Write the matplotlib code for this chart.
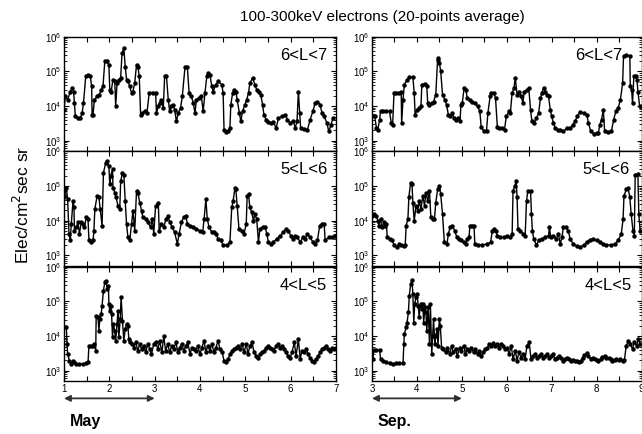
import matplotlib
matplotlib.use("Agg")
import matplotlib.pyplot as plt
from matplotlib.ticker import MultipleLocator, LogLocator, NullFormatter
import numpy as np

plt.rcParams['font.family'] = ['Liberation Sans', 'DejaVu Sans']

#%% Dados: (dia, log10 fluxo)

may_67 = [(1.00,3.89),(1.03,4.28),(1.08,4.18),(1.14,4.42),(1.18,4.52),(1.21,4.42),(1.23,4.09),(1.25,3.70),
          (1.31,3.65),(1.36,3.65),(1.40,3.80),(1.43,4.09),(1.48,4.86),(1.53,4.90),(1.58,4.86),(1.61,4.57),
          (1.62,3.75),(1.64,3.75),(1.67,4.18),(1.73,4.28),(1.78,4.33),(1.82,4.47),(1.86,4.57),(1.90,5.29),
          (1.95,5.29),(1.99,5.19),(2.01,4.47),(2.04,4.42),(2.08,4.76),(2.12,4.71),(2.14,3.99),(2.17,4.66),
          (2.21,4.76),(2.25,4.81),(2.28,5.53),(2.32,5.67),(2.35,5.14),(2.38,4.76),(2.41,4.71),(2.45,4.57),
          (2.49,4.38),(2.52,4.42),(2.56,4.66),(2.60,5.19),(2.63,5.14),(2.66,4.86),(2.69,3.75),(2.73,3.80),
          (2.78,3.85),(2.83,3.80),(2.88,4.39),(2.97,4.39),(3.02,4.39),(3.04,3.80),(3.08,3.99),(3.11,4.09),
          (3.15,4.18),(3.19,3.94),(3.22,4.86),(3.26,4.86),(3.30,4.18),(3.33,3.85),(3.37,3.99),(3.41,4.04),
          (3.44,3.89),(3.48,3.56),(3.52,3.80),(3.57,3.94),(3.61,4.28),(3.67,5.14),(3.72,5.14),(3.76,4.38),
          (3.81,4.28),(3.85,4.09),(3.89,3.80),(3.92,4.18),(3.98,4.23),(4.03,4.28),(4.07,3.85),(4.11,4.38),
          (4.15,4.86),(4.18,4.95),(4.22,4.90),(4.26,4.57),(4.29,4.42),(4.35,4.62),(4.40,4.71),(4.48,4.62),
          (4.51,4.38),(4.53,3.32),(4.57,3.24),(4.62,3.27),(4.66,3.37),(4.68,4.04),(4.72,4.38),(4.76,4.47),
          (4.79,4.42),(4.82,4.18),(4.87,3.80),(4.90,3.56),(4.94,3.85),(4.99,4.04),(5.03,4.18),(5.07,4.38),
          (5.10,4.66),(5.16,4.81),(5.21,4.62),(5.25,4.47),(5.30,4.42),(5.34,4.33),(5.38,4.04),(5.41,3.75),
          (5.46,3.61),(5.51,3.53),(5.56,3.51),(5.62,3.53),(5.68,3.37),(5.73,3.65),(5.80,3.70),(5.88,3.75),
          (5.93,3.61),(5.99,3.51),(6.06,3.56),(6.10,3.37),(6.14,3.56),(6.17,4.42),(6.20,3.80),(6.22,3.37),
          (6.30,3.34),(6.37,3.32),(6.43,3.61),(6.49,3.85),(6.54,4.09),(6.59,4.13),(6.65,4.04),(6.69,3.80),
          (6.74,3.70),(6.80,3.51),(6.84,3.27),(6.89,3.46),(6.93,3.65)]

sep_67 = [(3.00,3.70),(3.06,3.70),(3.10,3.37),(3.13,3.32),(3.17,3.61),(3.19,3.85),(3.24,3.87),(3.32,3.85),
          (3.39,3.85),(3.43,3.51),(3.46,3.46),(3.49,4.39),(3.54,4.39),(3.61,4.39),(3.65,4.42),(3.66,3.51),
          (3.69,4.18),(3.72,4.62),(3.78,4.76),(3.83,4.83),(3.91,4.83),(3.94,4.38),(3.96,3.75),(4.00,3.89),
          (4.05,3.94),(4.09,3.99),(4.11,4.62),(4.17,4.64),(4.22,4.57),(4.24,4.09),(4.28,4.04),(4.33,4.09),
          (4.37,4.13),(4.42,4.33),(4.46,5.34),(4.47,5.38),(4.50,5.24),(4.53,5.00),(4.57,4.33),(4.62,4.18),
          (4.66,4.04),(4.70,3.75),(4.74,3.70),(4.79,3.80),(4.83,3.65),(4.87,3.61),(4.92,3.65),(4.96,3.56),
          (4.98,4.04),(5.01,4.09),(5.05,4.52),(5.09,4.47),(5.12,4.23),(5.18,4.18),(5.23,4.13),(5.29,4.09),
          (5.35,3.99),(5.40,3.85),(5.43,3.41),(5.49,3.27),(5.55,3.29),(5.58,3.80),(5.63,4.28),(5.65,4.39),
          (5.71,4.39),(5.75,4.23),(5.79,3.41),(5.82,3.37),(5.90,3.37),(5.95,3.32),(5.99,3.70),(6.05,3.85),
          (6.08,3.80),(6.12,4.38),(6.16,4.52),(6.19,4.81),(6.23,4.33),(6.27,4.42),(6.32,4.28),(6.36,4.09),
          (6.39,4.42),(6.45,4.47),(6.49,4.52),(6.53,3.89),(6.56,3.56),(6.61,3.51),(6.66,3.65),(6.71,3.80),
          (6.75,4.23),(6.78,4.38),(6.82,4.52),(6.86,4.42),(6.89,4.33),(6.93,4.28),(6.97,3.89),(7.00,3.70),
          (7.04,3.51),(7.08,3.37),(7.13,3.30),(7.19,3.32),(7.26,3.27),(7.34,3.37),(7.41,3.37),(7.47,3.46),
          (7.52,3.56),(7.57,3.70),(7.63,3.83),(7.71,3.80),(7.78,3.75),(7.82,3.51),(7.87,3.27),(7.94,3.20),
          (8.00,3.22),(8.04,3.22),(8.07,3.46),(8.11,3.61),(8.15,3.89),(8.18,3.27),(8.26,3.24),(8.33,3.27),
          (8.38,3.61),(8.43,3.85),(8.48,3.94),(8.53,4.18),(8.58,4.66),(8.60,5.45),(8.66,5.47),(8.74,5.45),
          (8.75,4.57),(8.78,4.47),(8.80,4.09),(8.83,4.86),(8.87,4.86),(8.90,4.76),(8.92,4.42),(8.96,3.99)]

may_56 = [(1.00,4.67),(1.01,4.71),(1.05,4.95),(1.08,4.62),(1.11,3.62),(1.14,3.43),(1.16,3.90),(1.20,4.57),
          (1.22,4.38),(1.23,3.71),(1.27,3.81),(1.31,3.95),(1.34,3.62),(1.38,3.95),(1.42,3.90),(1.45,3.81),
          (1.49,4.10),(1.53,4.05),(1.55,3.43),(1.60,3.38),(1.64,3.43),(1.66,3.71),(1.68,4.33),(1.73,4.71),
          (1.77,4.67),(1.80,4.33),(1.84,3.86),(1.87,5.38),(1.92,5.67),(1.95,5.71),(1.99,5.57),(2.01,5.05),
          (2.03,5.29),(2.07,5.48),(2.08,4.95),(2.12,4.81),(2.15,4.67),(2.19,4.43),(2.23,4.33),(2.25,5.14),
          (2.29,5.38),(2.32,5.33),(2.35,4.57),(2.38,3.90),(2.41,3.52),(2.45,3.43),(2.49,3.90),(2.52,4.29),
          (2.56,3.71),(2.60,4.86),(2.63,4.81),(2.67,4.52),(2.71,4.29),(2.74,4.10),(2.80,4.05),(2.85,3.95),
          (2.91,3.81),(2.95,4.05),(2.98,3.62),(3.02,4.43),(3.08,4.52),(3.10,3.71),(3.15,3.90),(3.20,3.81),
          (3.25,4.05),(3.30,4.14),(3.33,3.95),(3.39,3.81),(3.44,3.67),(3.50,3.33),(3.54,3.62),(3.59,3.95),
          (3.64,4.10),(3.69,4.14),(3.72,3.90),(3.77,3.86),(3.85,3.81),(3.92,3.76),(4.00,3.71),(4.06,3.67),
          (4.09,4.05),(4.13,4.62),(4.16,4.05),(4.20,3.81),(4.26,3.67),(4.31,3.67),(4.35,3.62),(4.40,3.48),
          (4.46,3.43),(4.51,3.30),(4.59,3.29),(4.66,3.38),(4.70,4.38),(4.73,4.57),(4.77,4.93),(4.79,4.90),
          (4.82,4.43),(4.86,3.76),(4.92,3.71),(4.97,3.62),(5.02,3.90),(5.04,4.71),(5.07,4.76),(5.10,4.38),
          (5.14,4.24),(5.18,4.00),(5.21,4.19),(5.25,4.05),(5.29,3.38),(5.32,3.76),(5.38,3.81),(5.44,3.81),
          (5.47,3.62),(5.51,3.38),(5.56,3.33),(5.62,3.38),(5.69,3.48),(5.77,3.57),(5.84,3.67),(5.90,3.76),
          (5.95,3.71),(6.00,3.57),(6.05,3.48),(6.10,3.57),(6.15,3.52),(6.21,3.38),(6.27,3.52),(6.32,3.48),
          (6.37,3.62),(6.43,3.52),(6.49,3.38),(6.54,3.33),(6.59,3.43),(6.64,3.86),(6.69,3.90),(6.74,3.90),
          (6.76,3.43),(6.84,3.52),(6.91,3.52),(6.98,3.57)]

sep_56 = [(3.00,4.14),(3.04,4.19),(3.10,4.14),(3.13,4.00),(3.15,3.86),(3.19,4.05),(3.22,3.81),(3.27,3.95),
          (3.29,3.86),(3.32,3.90),(3.34,3.52),(3.39,3.48),(3.44,3.43),(3.50,3.29),(3.56,3.24),(3.61,3.33),
          (3.65,3.29),(3.71,3.26),(3.74,3.29),(3.76,3.86),(3.80,4.05),(3.82,4.67),(3.86,5.10),(3.89,5.05),
          (3.91,4.52),(3.94,4.00),(3.98,4.43),(4.02,4.29),(4.05,4.57),(4.09,4.33),(4.13,4.71),(4.17,4.43),
          (4.20,4.81),(4.24,4.57),(4.28,4.86),(4.31,4.10),(4.35,4.05),(4.39,4.05),(4.42,4.52),(4.46,4.90),
          (4.50,5.00),(4.53,4.76),(4.57,4.19),(4.61,3.38),(4.67,3.33),(4.70,3.62),(4.74,3.81),(4.79,3.86),
          (4.84,3.71),(4.89,3.52),(4.94,3.48),(4.99,3.43),(5.05,3.38),(5.09,3.33),(5.12,3.48),(5.16,3.52),
          (5.18,3.86),(5.23,3.86),(5.27,3.86),(5.29,3.33),(5.35,3.31),(5.46,3.30),(5.57,3.33),(5.64,3.38),
          (5.68,3.71),(5.71,3.76),(5.75,3.71),(5.79,3.57),(5.86,3.52),(5.94,3.52),(6.01,3.57),(6.08,3.52),
          (6.12,3.62),(6.14,4.86),(6.18,5.00),(6.21,5.14),(6.23,4.67),(6.25,3.76),(6.30,3.71),(6.36,3.62),
          (6.41,3.57),(6.44,4.57),(6.47,4.86),(6.53,4.86),(6.55,4.19),(6.57,3.71),(6.60,3.48),(6.66,3.29),
          (6.71,3.43),(6.78,3.48),(6.86,3.52),(6.93,3.57),(6.95,3.81),(6.98,3.52),(7.04,3.57),(7.10,3.48),
          (7.15,3.62),(7.19,3.33),(7.23,3.52),(7.26,3.81),(7.32,3.81),(7.37,3.71),(7.41,3.48),(7.48,3.33),
          (7.56,3.26),(7.63,3.24),(7.71,3.29),(7.78,3.38),(7.85,3.45),(7.93,3.48),(8.00,3.43),(8.07,3.38),
          (8.15,3.33),(8.22,3.30),(8.33,3.30),(8.41,3.33),(8.48,3.43),(8.55,3.62),(8.59,4.05),(8.61,4.71),
          (8.66,4.90),(8.70,4.95),(8.74,4.67),(8.77,4.19),(8.81,3.71),(8.84,3.57),(8.86,5.33),(8.92,5.35),
          (8.94,4.19),(8.97,3.71)]

may_45 = [(1.00,4.25),(1.05,4.25),(1.07,3.77),(1.08,3.48),(1.12,3.29),(1.16,3.19),(1.20,3.29),(1.23,3.24),
          (1.27,3.19),(1.34,3.19),(1.42,3.19),(1.49,3.21),(1.53,3.24),(1.55,3.72),(1.60,3.72),(1.64,3.72),
          (1.67,3.77),(1.70,3.58),(1.71,4.59),(1.75,4.54),(1.77,4.15),(1.79,4.49),(1.82,4.63),(1.84,4.88),
          (1.87,5.31),(1.90,5.55),(1.93,5.60),(1.95,5.36),(1.98,5.45),(1.99,4.92),(2.01,4.73),(2.03,4.88),
          (2.05,4.63),(2.07,3.96),(2.09,4.35),(2.12,4.15),(2.14,3.86),(2.17,4.35),(2.19,4.73),(2.21,3.96),
          (2.24,4.49),(2.26,5.12),(2.29,4.44),(2.32,3.86),(2.35,4.20),(2.38,4.35),(2.41,4.30),(2.43,3.91),
          (2.46,3.82),(2.51,3.77),
          (2.54,3.67),(2.58,3.82),(2.63,3.58),(2.67,3.77),(2.71,3.63),(2.76,3.72),(2.80,3.53),(2.85,3.77),
          (2.89,3.63),(2.93,3.48),(2.98,3.77),(3.02,3.82),(3.07,3.63),(3.11,3.86),(3.16,3.53),(3.20,4.01),
          (3.24,3.58),(3.29,3.77),(3.33,3.53),(3.38,3.72),(3.42,3.63),(3.47,3.82),(3.51,3.53),(3.55,3.67),
          (3.60,3.77),(3.64,3.58),(3.69,3.72),(3.73,3.82),(3.78,3.48),(3.82,3.67),(3.86,3.63),(3.91,3.58),
          (3.95,3.72),(4.00,3.48),(4.04,3.67),(4.09,3.86),(4.13,3.53),(4.17,3.72),(4.22,3.58),(4.26,3.77),
          (4.31,3.53),(4.35,3.67),(4.40,3.86),(4.44,3.63),(4.49,3.53),(4.53,3.29),(4.57,3.24),(4.62,3.34),
          (4.66,3.48),(4.71,3.58),(4.75,3.63),(4.79,3.67),(4.84,3.72),(4.88,3.63),(4.93,3.77),(4.97,3.53),
          (5.02,3.77),(5.06,3.48),(5.10,3.72),(5.15,3.82),(5.19,3.53),(5.24,3.43),(5.28,3.38),(5.33,3.48),
          (5.37,3.53),(5.41,3.58),(5.46,3.67),(5.50,3.72),(5.55,3.67),(5.59,3.63),(5.63,3.58),(5.68,3.72),
          (5.72,3.77),(5.77,3.67),(5.81,3.72),(5.86,3.63),(5.90,3.53),(5.94,3.43),(5.99,3.38),(6.03,3.53),
          (6.08,3.82),(6.12,3.43),(6.17,3.91),(6.21,3.34),(6.25,3.58),(6.30,3.53),(6.34,3.63),(6.39,3.48),
          (6.43,3.38),(6.48,3.29),(6.52,3.24),(6.56,3.34),(6.61,3.43),(6.65,3.53),(6.70,3.63),(6.74,3.67),
          (6.78,3.72),(6.83,3.63),(6.87,3.58),(6.92,3.67),(6.96,3.63),(7.00,3.67)]

sep_45 = [(3.00,3.34),(3.02,3.34),(3.04,3.60),(3.10,3.60),(3.17,3.60),(3.19,3.34),(3.24,3.29),(3.32,3.26),
          (3.39,3.21),(3.46,3.19),(3.54,3.21),(3.61,3.22),(3.69,3.21),(3.71,3.77),(3.72,4.06),(3.76,4.25),
          (3.78,4.39),(3.81,4.68),(3.83,5.16),(3.86,5.50),(3.89,5.62),(3.91,5.21),(3.93,4.39),(3.95,4.92),
          (3.98,5.12),(4.00,5.21),(4.03,4.88),(4.05,4.54),(4.08,4.92),(4.11,4.78),(4.13,4.92),(4.15,4.39),
          (4.18,4.83),(4.20,4.68),(4.22,4.15),(4.25,4.83),(4.28,3.77),(4.30,4.92),(4.33,3.48),(4.35,4.01),
          (4.37,4.49),(4.40,3.77),(4.42,4.01),(4.45,4.20),(4.47,3.72),(4.50,4.49),(4.52,4.30),(4.55,3.67),
          (4.59,3.63),(4.64,3.53),(4.68,3.67),(4.73,3.48),(4.77,3.72),(4.81,3.53),(4.86,3.63),(4.90,3.43),
          (4.95,3.67),(4.99,3.58),(5.04,3.72),(5.08,3.48),(5.12,3.63),(5.17,3.58),(5.21,3.67),(5.26,3.53),
          (5.30,3.63),(5.35,3.48),(5.39,3.58),(5.43,3.43),(5.48,3.53),(5.52,3.63),(5.57,3.67),(5.61,3.77),
          (5.65,3.72),(5.70,3.79),(5.74,3.72),(5.79,3.77),(5.83,3.67),(5.88,3.77),(5.92,3.72),(5.96,3.63),
          (6.01,3.67),(6.05,3.48),(6.10,3.72),(6.14,3.34),(6.19,3.58),(6.23,3.29),(6.27,3.53),(6.32,3.38),
          (6.36,3.48),(6.41,3.34),(6.45,3.72),(6.50,3.82),(6.54,3.34),(6.58,3.43),(6.63,3.48),(6.67,3.38),
          (6.72,3.43),(6.76,3.48),(6.80,3.38),(6.85,3.43),(6.89,3.48),(6.94,3.38),(6.98,3.43),(7.03,3.48),
          (7.07,3.34),(7.11,3.38),(7.16,3.43),(7.20,3.38),(7.25,3.29),(7.29,3.34),(7.34,3.38),(7.38,3.34),
          (7.42,3.29),(7.47,3.31),(7.51,3.27),(7.56,3.29),(7.60,3.24),(7.65,3.29),(7.69,3.38),(7.73,3.46),
          (7.78,3.50),(7.82,3.43),(7.87,3.34),(7.91,3.38),(7.96,3.34),(8.00,3.31),(8.04,3.29),(8.09,3.34),
          (8.13,3.40),(8.18,3.43),(8.22,3.38),(8.27,3.37),(8.31,3.34),(8.35,3.29),(8.40,3.31),(8.44,3.34),
          (8.49,3.31),(8.53,3.34),(8.58,3.29),(8.62,3.31),(8.66,3.72),(8.71,3.86),(8.75,3.77),(8.80,3.63),
          (8.84,3.82),(8.89,3.72),(8.93,3.91),(8.97,3.77)]

paineis = [[may_67, sep_67], [may_56, sep_56], [may_45, sep_45]]
faixas_L = ["6<L<7", "5<L<6", "4<L<5"]
xlims = [(1, 7), (3, 9)]
meses = ["May", "Sep."]

#%% Figura

fig = plt.figure(figsize=(6.42, 4.34), dpi=100)

W, H = 642.0, 434.0
lefts = [64.0, 372.0]
widths = [272.0, 269.5]
tops = [36.7, 151.3, 266.7]
alt = 114.5
# posição horizontal do rótulo de L (fração do eixo)
pos_rotulo = [[0.968, 0.928], [0.968, 0.957], [0.968, 0.965]]

for i in range(3):
    for j in range(2):
        ax = fig.add_axes([lefts[j]/W, 1 - (tops[i] + alt)/H, widths[j]/W, alt/H])
        dados = np.array(paineis[i][j])
        ax.plot(dados[:, 0], 10**dados[:, 1], color='black', lw=1.0,
                marker='o', ms=3.2, mew=0, clip_on=True)
        ax.set_yscale('log')
        ax.set_ylim(5e2, 1e6)
        ax.set_xlim(*xlims[j])
        ax.xaxis.set_major_locator(MultipleLocator(1))
        ax.xaxis.set_minor_locator(MultipleLocator(0.5))
        ax.yaxis.set_major_locator(LogLocator(base=10, numticks=10))
        ax.yaxis.set_minor_locator(LogLocator(base=10, subs=np.arange(2, 10), numticks=10))
        ax.yaxis.set_minor_formatter(NullFormatter())
        ax.tick_params(which='both', direction='in', top=True, right=True, labelsize=7, pad=2)
        ax.tick_params(which='major', length=3.5, width=0.8)
        ax.tick_params(which='minor', length=2, width=0.6)
        ax.tick_params(axis='x', which='minor', length=3.5, width=0.8)
        for s in ax.spines.values():
            s.set_linewidth(1.0)
        ax.text(pos_rotulo[i][j], 0.84, faixas_L[i], transform=ax.transAxes, ha='right',
                va='center', fontsize=12)
        if i < 2:
            ax.set_xticklabels([])
        else:
            x0, x1 = xlims[j]
            ax.annotate('', xy=(x0 + 2, -0.15), xytext=(x0, -0.15),
                        xycoords=ax.get_xaxis_transform(), annotation_clip=False,
                        arrowprops=dict(arrowstyle='<|-|>', color='#303030', lw=1.3,
                                        mutation_scale=9, shrinkA=0, shrinkB=0))
            ax.text(x0 + 0.12, -0.35, meses[j], transform=ax.get_xaxis_transform(),
                    ha='left', va='center', fontsize=11.5, fontweight='bold')

fig.text(382/W, 1 - 17/H, "100-300keV electrons (20-points average)",
         ha='center', va='center', fontsize=11)
fig.text(22/W, 1 - 205/H, "Elec/cm$^2$sec sr", rotation=90,
         ha='center', va='center', fontsize=12.5)

plt.savefig("out.png", dpi=100)
